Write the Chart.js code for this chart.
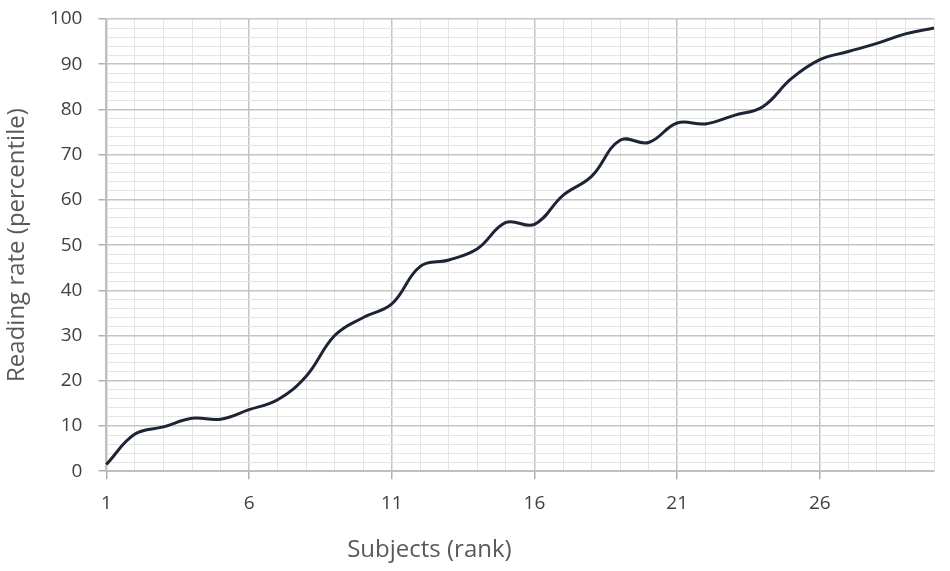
<!DOCTYPE html>
<html lang="en">
<head>
  <meta charset="UTF-8">
  <title>Reading rate by subject rank</title>
  <style>
    body {
      margin: 0;
      padding: 0;
      background: #fff;
    }
    .chart-container {
      width: 950px;
      height: 571px;
    }
  </style>
</head>
<body>

<div class="chart-container">
  <canvas id="rateChart"></canvas>
</div>

<script src="https://cdn.jsdelivr.net/npm/chart.js"></script>
<script>
  // subjects ranked 1..30
  const ranks = ['1', '2', '3', '4', '5', '6', '7', '8', '9', '10',
                 '11', '12', '13', '14', '15', '16', '17', '18', '19', '20',
                 '21', '22', '23', '24', '25', '26', '27', '28', '29', '30'];
  // reading rate (percentile)
  const readingRate = [1.5, 8.2, 9.8, 11.7, 11.5, 13.6, 15.8, 21, 30, 34,
                       37, 45.3, 46.7, 49.2, 55, 54.6, 61, 65.2, 73.2, 72.7,
                       77, 76.8, 78.7, 80.6, 86.8, 91, 92.8, 94.6, 96.7, 98];
  const xMajorLabels = ['1', '6', '11', '16', '21', '26'];
  const yMajorStep = 10;

  const textFont = "'Open Sans', 'Liberation Sans', sans-serif";

  // x title sits left of centre in the original, so draw it by hand
  const xTitlePlugin = {
    id: 'xTitle',
    afterDraw(chart) {
      const c = chart.ctx;
      c.save();
      c.font = '24px ' + textFont;
      c.fillStyle = '#595959';
      c.textAlign = 'center';
      c.textBaseline = 'middle';
      c.fillText('Subjects (rank)', chart.width * 0.452, 550);
      c.restore();
    }
  };

  const ctx = document.getElementById('rateChart').getContext('2d');
  const rateChart = new Chart(ctx, {
    type: 'line',
    data: {
      labels: ranks,
      datasets: [{
        data: readingRate,
        borderColor: '#1c2435',
        borderWidth: 3,
        tension: 0.4,
        pointRadius: 0,
        fill: false
      }]
    },
    options: {
      responsive: true,
      maintainAspectRatio: false,
      animation: false,
      layout: {
        padding: { top: 19, right: 16, bottom: 43, left: 3 }
      },
      plugins: {
        legend: { display: false },
        tooltip: { enabled: false }
      },
      scales: {
        x: {
          offset: false,
          grid: {
            color: (c) => xMajorLabels.includes(ranks[c.index]) ? '#c4c4c4' : '#e4e4e4',
            lineWidth: (c) => xMajorLabels.includes(ranks[c.index]) ? 1.5 : 1,
            tickColor: (c) => xMajorLabels.includes(ranks[c.index]) ? '#b0b0b0' : 'rgba(0,0,0,0)',
            tickLength: 8
          },
          border: { color: '#bfbfbf', width: 2 },
          ticks: {
            autoSkip: false,
            maxRotation: 0,
            padding: 13,
            color: '#404040',
            font: { size: 19, family: textFont },
            callback: function(v, i) {
              return xMajorLabels.includes(ranks[i]) ? ranks[i] : '';
            }
          }
        },
        y: {
          min: 0,
          max: 100,
          afterFit: (scale) => { scale.paddingTop = 0; },
          grid: {
            color: (c) => c.tick.value % yMajorStep === 0 ? '#c4c4c4' : '#e4e4e4',
            lineWidth: (c) => c.tick.value % yMajorStep === 0 ? 1.5 : 1,
            tickColor: (c) => c.tick.value % yMajorStep === 0 ? '#b0b0b0' : 'rgba(0,0,0,0)',
            tickLength: 8
          },
          border: { color: '#bfbfbf', width: 2 },
          ticks: {
            stepSize: 2,
            autoSkip: false,
            padding: 16,
            color: '#404040',
            font: { size: 19, family: textFont },
            callback: function(v) {
              return v % yMajorStep === 0 ? v : '';
            }
          },
          title: {
            display: true,
            text: 'Reading rate (percentile)',
            color: '#595959',
            font: { size: 24, family: textFont },
            padding: { top: 0, bottom: 2 }
          }
        }
      }
    },
    plugins: [xTitlePlugin]
  });
</script>

</body>
</html>
